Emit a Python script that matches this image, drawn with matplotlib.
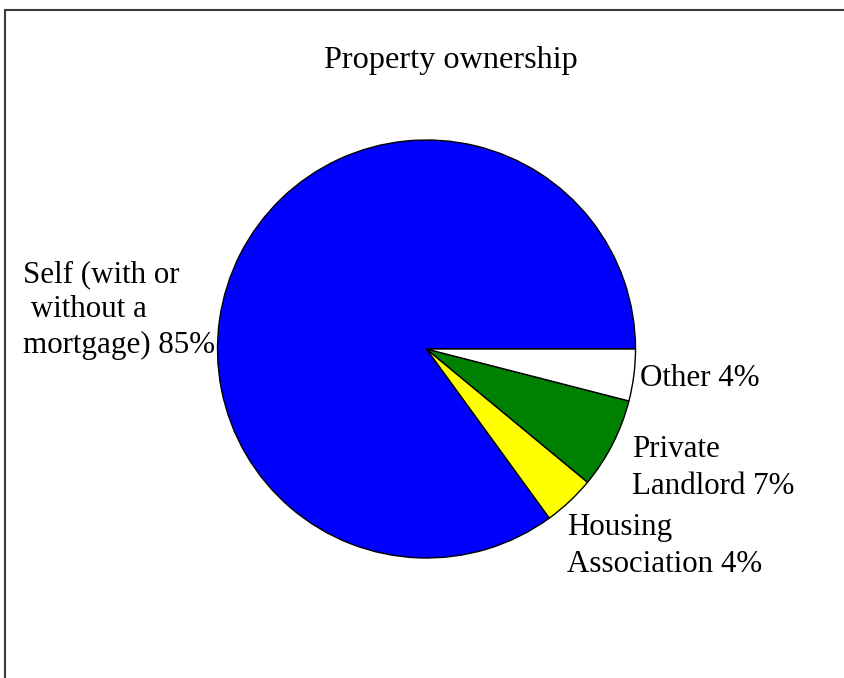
import matplotlib
matplotlib.use("Agg")
import matplotlib.pyplot as plt
from matplotlib.patches import Rectangle

# Property ownership shares (percent), drawn counter-clockwise from 3 o'clock
categories = ["Self (with or\n without a\nmortgage)", "Housing\nAssociation",
              "Private\nLandlord", "Other"]
shares = [85, 4, 7, 4]
colors = ["#0000FF", "#FFFF00", "#008000", "#FFFFFF"]
title = "Property ownership"

W, H = 845, 678
fig = plt.figure(figsize=(W / 100, H / 100), dpi=100)
ax = fig.add_axes([0, 0, 1, 1])

FONT = "Liberation Serif"
FS = 22.3

# pie in pixel-like coordinates (y measured upwards)
cx, cy, r = 426.5, H - 349, 209
ax.pie(shares, colors=colors, startangle=0, counterclock=True,
       center=(cx, cy), radius=r,
       wedgeprops=dict(edgecolor="black", linewidth=1.0), frame=True)
ax.set_xlim(0, W)
ax.set_ylim(0, H)
ax.set_aspect("equal")
ax.axis("off")

# label anchors: (left x, first baseline y from top, line spacing)
anchors = [(23, 282, 35.5), (567, 535, 37), (632, 457, 37), (640, 386, 37)]
for cat, val, (x, y0, dy) in zip(categories, shares, anchors):
    label = f"{cat} {val}%"
    for i, line in enumerate(label.split("\n")):
        ax.text(x, H - (y0 + i * dy), line, ha="left", va="baseline",
                fontsize=FS, family=FONT, color="black")

ax.text(451, H - 68, title, ha="center", va="baseline",
        fontsize=23.2, family=FONT, color="black")

# chart area frame, running off the right and bottom edges
fig.patches.append(Rectangle((5.5 / W, -0.05), 1.2, (H - 9.5) / H + 0.05,
                             transform=fig.transFigure, fill=False,
                             edgecolor="#3a3a3a", linewidth=1.5))

fig.savefig("out.png", dpi=100)
